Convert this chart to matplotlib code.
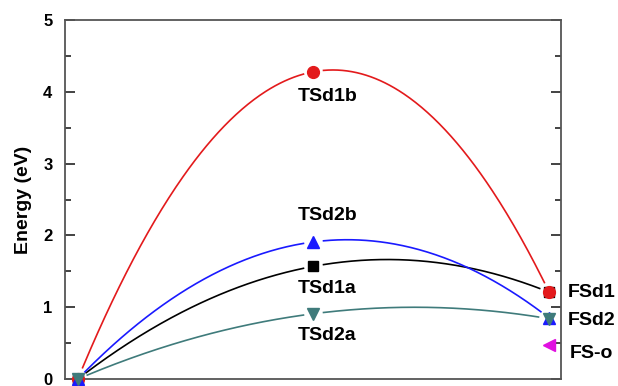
import numpy as np
import matplotlib
matplotlib.use("Agg")
import matplotlib.pyplot as plt

plt.rcParams["font.family"] = ["Liberation Sans", "DejaVu Sans"]

# reaction coordinate: initial, transition state, final
stages = [0, 1, 2]

# energies (eV)
d1a = [0.0, 1.57, 1.21]
d1b = [0.0, 4.28, 1.21]
d2b = [0.0, 1.91, 0.85]
d2a = [0.0, 0.91, 0.84]
fs_o = 0.47

ts_labels = ["TSd1a", "TSd1b", "TSd2b", "TSd2a"]
fs_labels = ["FSd1", "FSd2", "FS-o"]

series = [
    (d1a, "black", "s", 7.5),
    (d1b, "#e31a1c", "o", 8.5),
    (d2b, "#1a1aff", "^", 9),
    (d2a, "#3f7b7b", "v", 9),
]

fig = plt.figure(figsize=(6.18, 3.86), dpi=100)
ax = fig.add_axes([0.105, 0.018, 0.803, 0.930])
ax.set_xlim(-0.055, 2.051)
ax.set_ylim(0, 5)
fig.canvas.draw()

gap = 10  # px gap between line and symbol
for vals, color, marker, ms in series:
    coef = np.polyfit(stages, vals, 2)
    xs = np.linspace(stages[0], stages[-1], 400)
    ys = np.polyval(coef, xs)
    pts = ax.transData.transform(np.column_stack([xs, ys]))
    marks = ax.transData.transform(np.column_stack([stages, vals]))
    mask = np.ones(len(xs), bool)
    for m in marks:
        mask &= np.hypot(*(pts - m).T) > gap
    ys = np.where(mask, ys, np.nan)
    ax.plot(xs, ys, color=color, lw=1.2)

for vals, color, marker, ms in series:
    ax.plot(stages, vals, ls="none", marker=marker, ms=ms, color=color,
            clip_on=False, zorder=5)

ax.plot([stages[-1]], [fs_o], ls="none", marker="<", ms=9, color="#e010e0",
        clip_on=False, zorder=5)

# state labels
kw = dict(fontsize=14, fontweight="bold", va="center")
ax.text(0.935, 1.26, ts_labels[0], **kw)
ax.text(0.935, 3.93, ts_labels[1], **kw)
ax.text(0.935, 2.28, ts_labels[2], **kw)
ax.text(0.935, 0.61, ts_labels[3], **kw)
ax.text(2.081, 1.20, fs_labels[0], clip_on=False, **kw)
ax.text(2.081, 0.82, fs_labels[1], clip_on=False, **kw)
ax.text(2.089, 0.36, fs_labels[2], clip_on=False, **kw)

ax.set_ylabel("Energy (eV)", fontsize=14, fontweight="bold", labelpad=8)
ax.set_yticks([0, 1, 2, 3, 4, 5])
ax.set_yticks(np.arange(0.5, 5, 1), minor=True)
ax.set_xticks([])
ax.tick_params(axis="y", which="both", direction="in", right=True,
               labelsize=12, pad=9, width=1.2, color="#222222")
ax.tick_params(axis="y", which="major", length=7)
ax.tick_params(axis="y", which="minor", length=4)
for lab in ax.get_yticklabels():
    lab.set_fontweight("bold")
for sp in ax.spines.values():
    sp.set_color("#555555")
    sp.set_linewidth(1.3)

fig.savefig("out.png", dpi=100)
